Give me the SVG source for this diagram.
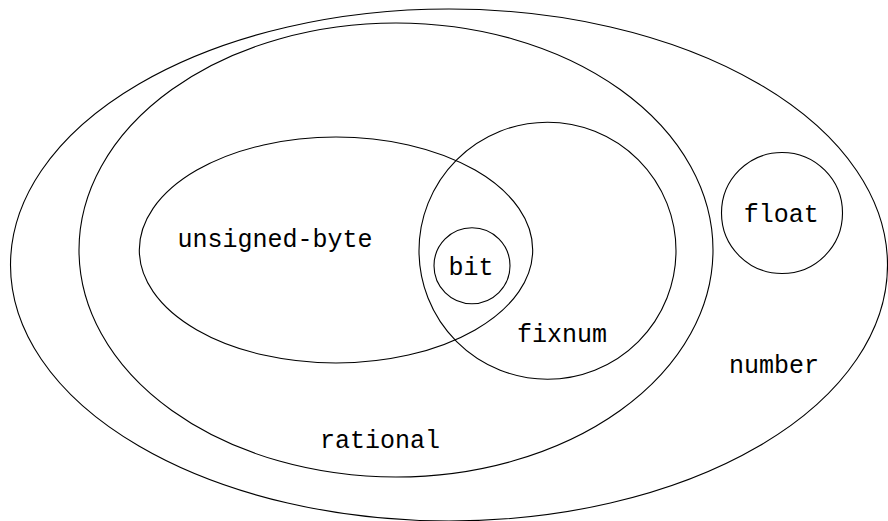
<svg xmlns="http://www.w3.org/2000/svg" width="888" height="521" viewBox="0 0 888 521">
<style>
.set{fill:none;stroke:#000;stroke-width:1.1}
.lbl{font-family:"Liberation Mono","DejaVu Sans Mono",monospace;font-size:25px;fill:#000;text-anchor:middle}
</style>
<rect width="888" height="521" fill="#fff"/>
<g id="number">
<ellipse class="set" cx="449" cy="265" rx="438.5" ry="256"/>
<text class="lbl" x="774" y="373">number</text>
</g>
<g id="rational">
<ellipse class="set" cx="396" cy="250" rx="317" ry="227"/>
<text class="lbl" x="380" y="448">rational</text>
</g>
<g id="unsigned-byte">
<ellipse class="set" cx="336" cy="250" rx="196.7" ry="113"/>
<text class="lbl" x="275" y="247">unsigned-byte</text>
</g>
<g id="fixnum">
<circle class="set" cx="547.5" cy="250.7" r="128.5"/>
<text class="lbl" x="562" y="342">fixnum</text>
</g>
<g id="bit">
<circle class="set" cx="472" cy="265.7" r="38"/>
<text class="lbl" x="471" y="275">bit</text>
</g>
<g id="float">
<circle class="set" cx="782" cy="213" r="60.5"/>
<text class="lbl" x="781.3" y="222">float</text>
</g>
<g id="connectors"/>
</svg>
